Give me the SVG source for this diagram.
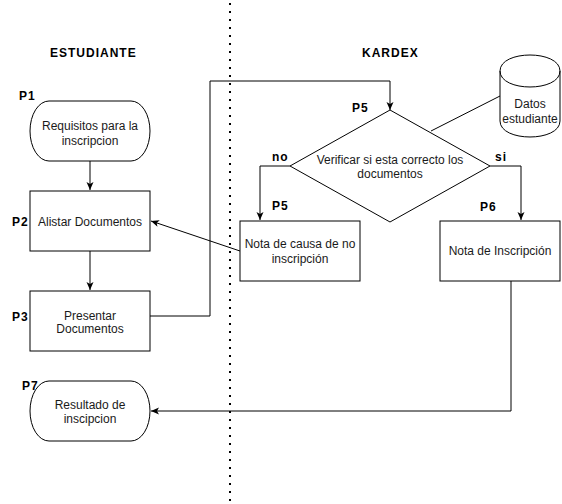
<svg xmlns="http://www.w3.org/2000/svg" width="562" height="504" viewBox="0 0 562 504">
<style>
.shape{fill:#fff;stroke:#000;stroke-width:1}
.t{font-family:"Liberation Sans",Arial,sans-serif;font-size:12px;fill:#1a1a1a;text-anchor:middle}
.b{font-family:"Liberation Sans",Arial,sans-serif;font-size:12px;font-weight:bold;fill:#000;letter-spacing:1px}
.c{fill:none;stroke:#000;stroke-width:1}
</style>
<defs>
<marker id="arr" viewBox="0 0 8 8" refX="8" refY="4" markerWidth="8" markerHeight="8" markerUnits="userSpaceOnUse" orient="auto">
<path d="M0,0.5 L8,4 L0,7.5 L2,4 Z" fill="#000"/>
</marker>
</defs>
<rect width="562" height="504" fill="#fff"/>
<line x1="230" y1="3" x2="230" y2="504" stroke="#000" stroke-width="2" stroke-dasharray="2 6"/>
<g id="lane-titles">
<text class="b" x="50" y="57">ESTUDIANTE</text>
<text class="b" x="362" y="57">KARDEX</text>
</g>
<g id="connectors">
<path class="c" d="M90,161 L90,190" marker-end="url(#arr)"/>
<path class="c" d="M90,251 L90,290" marker-end="url(#arr)"/>
<path class="c" d="M150,316 L210,316 L210,81 L390,81 L390,110" marker-end="url(#arr)"/>
<path class="c" d="M290,166 L260,166 L260,220" marker-end="url(#arr)"/>
<path class="c" d="M490,166 L521,166 L521,220" marker-end="url(#arr)"/>
<path class="c" d="M240,251 L151,221" marker-end="url(#arr)"/>
<path class="c" d="M511,281 L511,411 L151,411" marker-end="url(#arr)"/>
<path class="c" d="M500,96 L431,131"/>
</g>
<g id="p1">
<rect class="shape" x="30" y="101" width="120" height="60" rx="19" ry="30"/>
<text class="t" x="90" y="130">Requisitos para la</text>
<text class="t" x="90" y="144.5">inscripcion</text>
<text class="b" x="19" y="100">P1</text>
</g>
<g id="p2">
<rect class="shape" x="30" y="191" width="120" height="60"/>
<text class="t" x="90" y="225.5">Alistar Documentos</text>
<text class="b" x="12" y="226">P2</text>
</g>
<g id="p3">
<rect class="shape" x="30" y="291" width="120" height="60"/>
<text class="t" x="90" y="319.5">Presentar</text>
<text class="t" x="90" y="333">Documentos</text>
<text class="b" x="12" y="320.5">P3</text>
</g>
<g id="p7">
<rect class="shape" x="30" y="381" width="120" height="60" rx="19" ry="30"/>
<text class="t" x="90" y="408.5">Resultado de</text>
<text class="t" x="90" y="423">inscipcion</text>
<text class="b" x="22" y="389.5">P7</text>
</g>
<g id="decision">
<path class="shape" d="M390,110 L490,166 L390,222 L290,166 Z"/>
<text class="t" x="390" y="163.5">Verificar si esta correcto los</text>
<text class="t" x="390" y="178">documentos</text>
<text class="b" x="352" y="112">P5</text>
<text class="b" x="272" y="161">no</text>
<text class="b" x="495" y="161">si</text>
</g>
<g id="db">
<path class="shape" d="M500,71 C500,49.67 560,49.67 560,71 L560,121 C560,142.33 500,142.33 500,121 Z"/>
<path class="c" d="M500,71 C500,92.33 560,92.33 560,71"/>
<text class="t" x="530" y="107.5">Datos</text>
<text class="t" x="530" y="122.5">estudiante</text>
</g>
<g id="p5">
<rect class="shape" x="240" y="221" width="120" height="60"/>
<text class="t" x="300" y="247.5">Nota de causa de no</text>
<text class="t" x="300" y="262.5">inscripción</text>
<text class="b" x="272" y="209.5">P5</text>
</g>
<g id="p6">
<rect class="shape" x="440" y="221" width="120" height="60"/>
<text class="t" x="500" y="255">Nota de Inscripción</text>
<text class="b" x="480" y="211">P6</text>
</g>
</svg>
